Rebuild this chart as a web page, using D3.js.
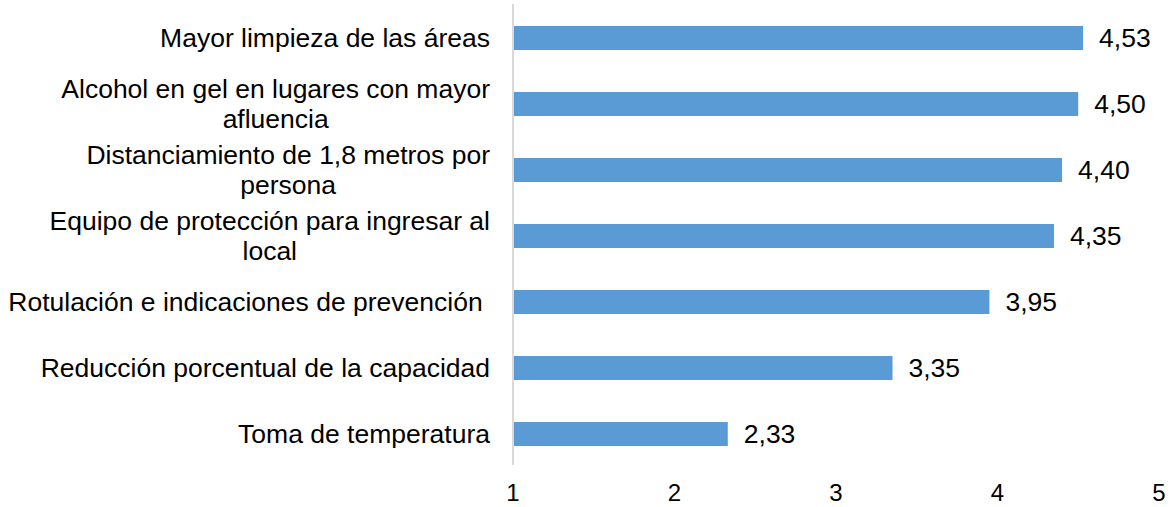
<!DOCTYPE html>
<html>
<head>
<meta charset="utf-8">
<script src="https://cdn.jsdelivr.net/npm/d3@7"></script>
<style>
  body { margin: 0; background: #fff; }
  text { font-family: "Liberation Sans", Arial, sans-serif; fill: #000; }
</style>
</head>
<body>
<div id="chart"></div>
<script>
// Data
const categories = [
  ["Mayor limpieza de las áreas"],
  ["Alcohol en gel en lugares con mayor", "afluencia"],
  ["Distanciamiento de 1,8 metros por", "persona"],
  ["Equipo de protección para ingresar al", "local"],
  ["Rotulación e indicaciones de prevención "],
  ["Reducción porcentual de la capacidad"],
  ["Toma de temperatura"]
];
const values = [4.53, 4.50, 4.40, 4.35, 3.95, 3.35, 2.33];
const tickValues = [1, 2, 3, 4, 5];

const width = 1170;
const height = 507;
const fontSize = "26.5px";

const svg = d3.select("#chart")
  .append("svg")
  .attr("width", width)
  .attr("height", height);

// scales
const x = d3.scaleLinear()
  .domain([1, 5])
  .range([513, 1159]);

const y = d3.scaleBand()
  .domain(d3.range(categories.length))
  .range([5, 467])
  .padding(0);

const barH = 24;
const fmt = d => d3.format(".2f")(d).replace(".", ",");

// bars
svg.selectAll(".bar")
  .data(values)
  .enter()
  .append("rect")
  .attr("class", "bar")
  .attr("x", x(1) + 1)
  .attr("y", (d, i) => y(i) + y.bandwidth() / 2 - barH / 2)
  .attr("width", d => x(d) - x(1) - 1)
  .attr("height", barH)
  .attr("fill", "#5b9bd5");

// vertical axis line
svg.append("line")
  .attr("x1", x(1))
  .attr("x2", x(1))
  .attr("y1", 4)
  .attr("y2", 465)
  .attr("stroke", "#d9d9d9")
  .attr("stroke-width", 2);

// value labels
svg.selectAll(".val")
  .data(values)
  .enter()
  .append("text")
  .attr("class", "val")
  .attr("x", d => x(d) + 16)
  .attr("y", (d, i) => y(i) + y.bandwidth() / 2 + 9)
  .style("font-size", fontSize)
  .text(d => fmt(d));

// category labels (multi-line, centered block, right aligned)
const labelRight = 490;
categories.forEach((lines, i) => {
  const cy = y(i) + y.bandwidth() / 2;
  const g = svg.append("g");
  const texts = lines.map((ln, j) => g.append("text")
    .style("font-size", fontSize)
    .attr("text-anchor", "middle")
    .attr("y", cy + 9 + (j - (lines.length - 1) / 2) * 30)
    .attr("xml:space", "preserve")
    .style("white-space", "pre")
    .text(ln));
  const maxW = d3.max(texts, t => t.node().getComputedTextLength());
  texts.forEach(t => t.attr("x", labelRight - maxW / 2));
});

// x axis tick labels
svg.selectAll(".tick-label")
  .data(tickValues)
  .enter()
  .append("text")
  .attr("class", "tick-label")
  .attr("x", d => x(d))
  .attr("y", 501)
  .attr("text-anchor", "middle")
  .style("font-size", "24px")
  .text(d => d);
</script>
</body>
</html>
